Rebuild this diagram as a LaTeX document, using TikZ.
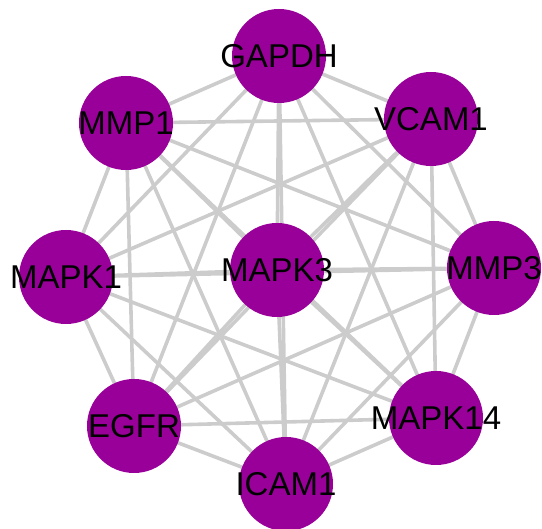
\documentclass[tikz,border=0pt]{standalone}
\usepackage{fontspec}
\setmainfont{Liberation Sans}
\usetikzlibrary{backgrounds}
\definecolor{hubfill}{RGB}{153,0,153}
\definecolor{edgegray}{RGB}{204,204,204}
\tikzset{
  hub/.style={circle, fill=hubfill, draw=none, minimum size=94pt, inner sep=0pt},
  hublabel/.style={text=black, inner sep=0pt, font=\fontsize{33}{38}\selectfont},
  link/.style={draw=edgegray, line width=3.6pt}
}
\begin{document}
\begin{tikzpicture}[x=1pt, y=-1pt]
  \clip (0,0) rectangle (542,529);
  \useasboundingbox (0,0) rectangle (542,529);
  % hub genes
  \node[hub] (gapdh)  at (279,56)  {};
  \node[hub] (mmp1)   at (126,123) {};
  \node[hub] (vcam1)  at (431,119) {};
  \node[hub] (mapk1)  at (66,277)  {};
  \node[hub] (mapk3)  at (277,270) {};
  \node[hub] (mmp3)   at (494,268) {};
  \node[hub] (egfr)   at (134,426) {};
  \node[hub] (mapk14) at (436,418) {};
  \node[hub] (icam1)  at (286,484) {};
  % gene names
  \node[hublabel] (tgapdh)  at (gapdh)  {GAPDH};
  \node[hublabel] (tmmp1)   at (mmp1)   {MMP1};
  \node[hublabel] (tvcam1)  at (vcam1)  {VCAM1};
  \node[hublabel] (tmapk1)  at (mapk1)  {MAPK1};
  \node[hublabel] (tmapk3)  at (mapk3)  {MAPK3};
  \node[hublabel] (tmmp3)   at (mmp3)   {MMP3};
  \node[hublabel] (tegfr)   at (egfr)   {EGFR};
  \node[hublabel] (tmapk14) at (mapk14) {MAPK14};
  \node[hublabel] (ticam1)  at (icam1)  {ICAM1};
  % interactions: every pair of genes is linked
  \begin{pgfonlayer}{background}
    \foreach \a/\b in {
      gapdh/mmp1, gapdh/vcam1, gapdh/mapk1, gapdh/mapk3, gapdh/mmp3,
      gapdh/egfr, gapdh/mapk14, gapdh/icam1,
      mmp1/vcam1, mmp1/mapk1, mmp1/mapk3, mmp1/mmp3, mmp1/egfr,
      mmp1/mapk14, mmp1/icam1,
      vcam1/mapk1, vcam1/mapk3, vcam1/mmp3, vcam1/egfr, vcam1/mapk14,
      vcam1/icam1,
      mapk1/mapk3, mapk1/mmp3, mapk1/egfr, mapk1/mapk14, mapk1/icam1,
      mapk3/mmp3, mapk3/egfr, mapk3/mapk14, mapk3/icam1,
      mmp3/egfr, mmp3/mapk14, mmp3/icam1,
      egfr/mapk14, egfr/icam1,
      mapk14/icam1}
      \draw[link] (\a.center) -- (\b.center);
  \end{pgfonlayer}
\end{tikzpicture}
\end{document}
